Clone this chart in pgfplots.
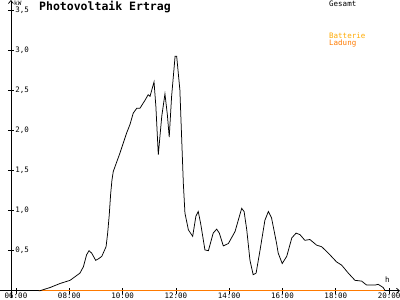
\documentclass[border=0pt]{standalone}
\usepackage{pgfplots}
\pgfplotsset{compat=1.18}
\usepackage{pgfplotstable}
\usepackage{fontspec}
\setmainfont{DejaVu Sans Mono}
\usetikzlibrary{arrows.meta}
\definecolor{batt}{HTML}{FFAA00}
\definecolor{ladung}{HTML}{FF7A00}

\pgfplotstableread{
h kw
6.85 0
6.90 0.00
7.28 0.04
7.65 0.09
8.03 0.13
8.40 0.22
8.53 0.30
8.65 0.45
8.74 0.50
8.84 0.47
8.99 0.38
9.10 0.40
9.22 0.43
9.38 0.55
9.44 0.72
9.50 0.95
9.55 1.20
9.60 1.38
9.65 1.49
9.90 1.72
10.15 1.97
10.28 2.08
10.40 2.22
10.53 2.28
10.65 2.28
10.84 2.38
10.96 2.45
11.03 2.43
11.18 2.61
11.25 2.30
11.34 1.70
11.47 2.18
11.59 2.46
11.68 2.20
11.75 1.92
11.84 2.43
11.97 2.93
12.03 2.93
12.15 2.51
12.22 1.88
12.28 1.34
12.34 0.97
12.47 0.76
12.63 0.68
12.75 0.93
12.84 0.99
12.93 0.84
13.09 0.51
13.22 0.50
13.40 0.72
13.53 0.77
13.63 0.72
13.78 0.56
13.97 0.59
14.22 0.74
14.34 0.88
14.47 1.03
14.56 0.99
14.66 0.76
14.78 0.38
14.90 0.20
15.01 0.22
15.16 0.51
15.34 0.88
15.47 0.99
15.59 0.91
15.78 0.59
15.84 0.47
15.99 0.34
16.16 0.43
16.35 0.66
16.51 0.72
16.66 0.70
16.84 0.63
17.03 0.64
17.28 0.57
17.47 0.55
17.72 0.47
18.03 0.36
18.22 0.32
18.47 0.22
18.72 0.13
18.97 0.12
19.16 0.07
19.47 0.07
19.59 0.08
19.78 0.04
19.85 0
}\gesamt

\pgfplotstableread{
h kw
6.85 0
19.85 0
}\ladung

\begin{document}
\begin{tikzpicture}
\begin{axis}[
  scale only axis,
  width=400pt, height=298pt,
  xmin=-0.41, xmax=14.60,
  ymin=-0.091, ymax=3.634,
  axis lines=middle,
  axis line style={black, line width=0.7pt, -{Straight Barb[length=3pt,width=5pt]}},
  xtick={0.19,2.19,4.19,6.19,8.19,10.19,12.19,14.19},
  xticklabels={06:00,08:00,10:00,12:00,14:00,16:00,18:00,20:00},
  ytick={0.5,1,1.5,2,2.5,3,3.5},
  yticklabels={{0,5},{1,0},{1,5},{2,0},{2,5},{3,0},{3,5}},
  tick align=center,
  major tick length=6pt,
  tick style={black, line width=0.6pt},
  ticklabel style={font=\fontsize{7.5}{8}\selectfont},
  yticklabel style={anchor=west, xshift=4pt},
  xticklabel style={anchor=north, yshift=4.5pt},
  clip=false,
]
\addplot[batt, line width=1.3pt] table[x expr=\thisrowno{0}-5.81, y index=1] {\ladung};
\addplot[ladung, line width=1.3pt] table[x expr=\thisrowno{0}-5.81, y index=1] {\ladung};
\addplot[black, line width=0.75pt] table[x expr=\thisrowno{0}-5.81, y index=1] {\gesamt};
\end{axis}
\node[anchor=base west, inner sep=0, font=\bfseries\fontsize{11.5}{12}\selectfont] at (39pt,287.3pt) {Photovoltaik Ertrag};
\node[anchor=base west, inner sep=0, font=\fontsize{7.5}{8}\selectfont] at (329pt,291.3pt) {Gesamt};
\node[anchor=base west, inner sep=0, font=\fontsize{7.5}{8}\selectfont, text=batt] at (329pt,259.7pt) {Batterie};
\node[anchor=base west, inner sep=0, font=\fontsize{7.5}{8}\selectfont, text=ladung] at (329pt,252.6pt) {Ladung};
\node[anchor=base west, inner sep=0, font=\fontsize{6}{6}\selectfont] at (14pt,292pt) {kW};
\node[anchor=base west, inner sep=0, font=\fontsize{7.5}{8}\selectfont] at (385pt,15pt) {h};
\pgfresetboundingbox
\path (0pt,-2pt) rectangle (400pt,298pt);
\end{tikzpicture}
\end{document}
